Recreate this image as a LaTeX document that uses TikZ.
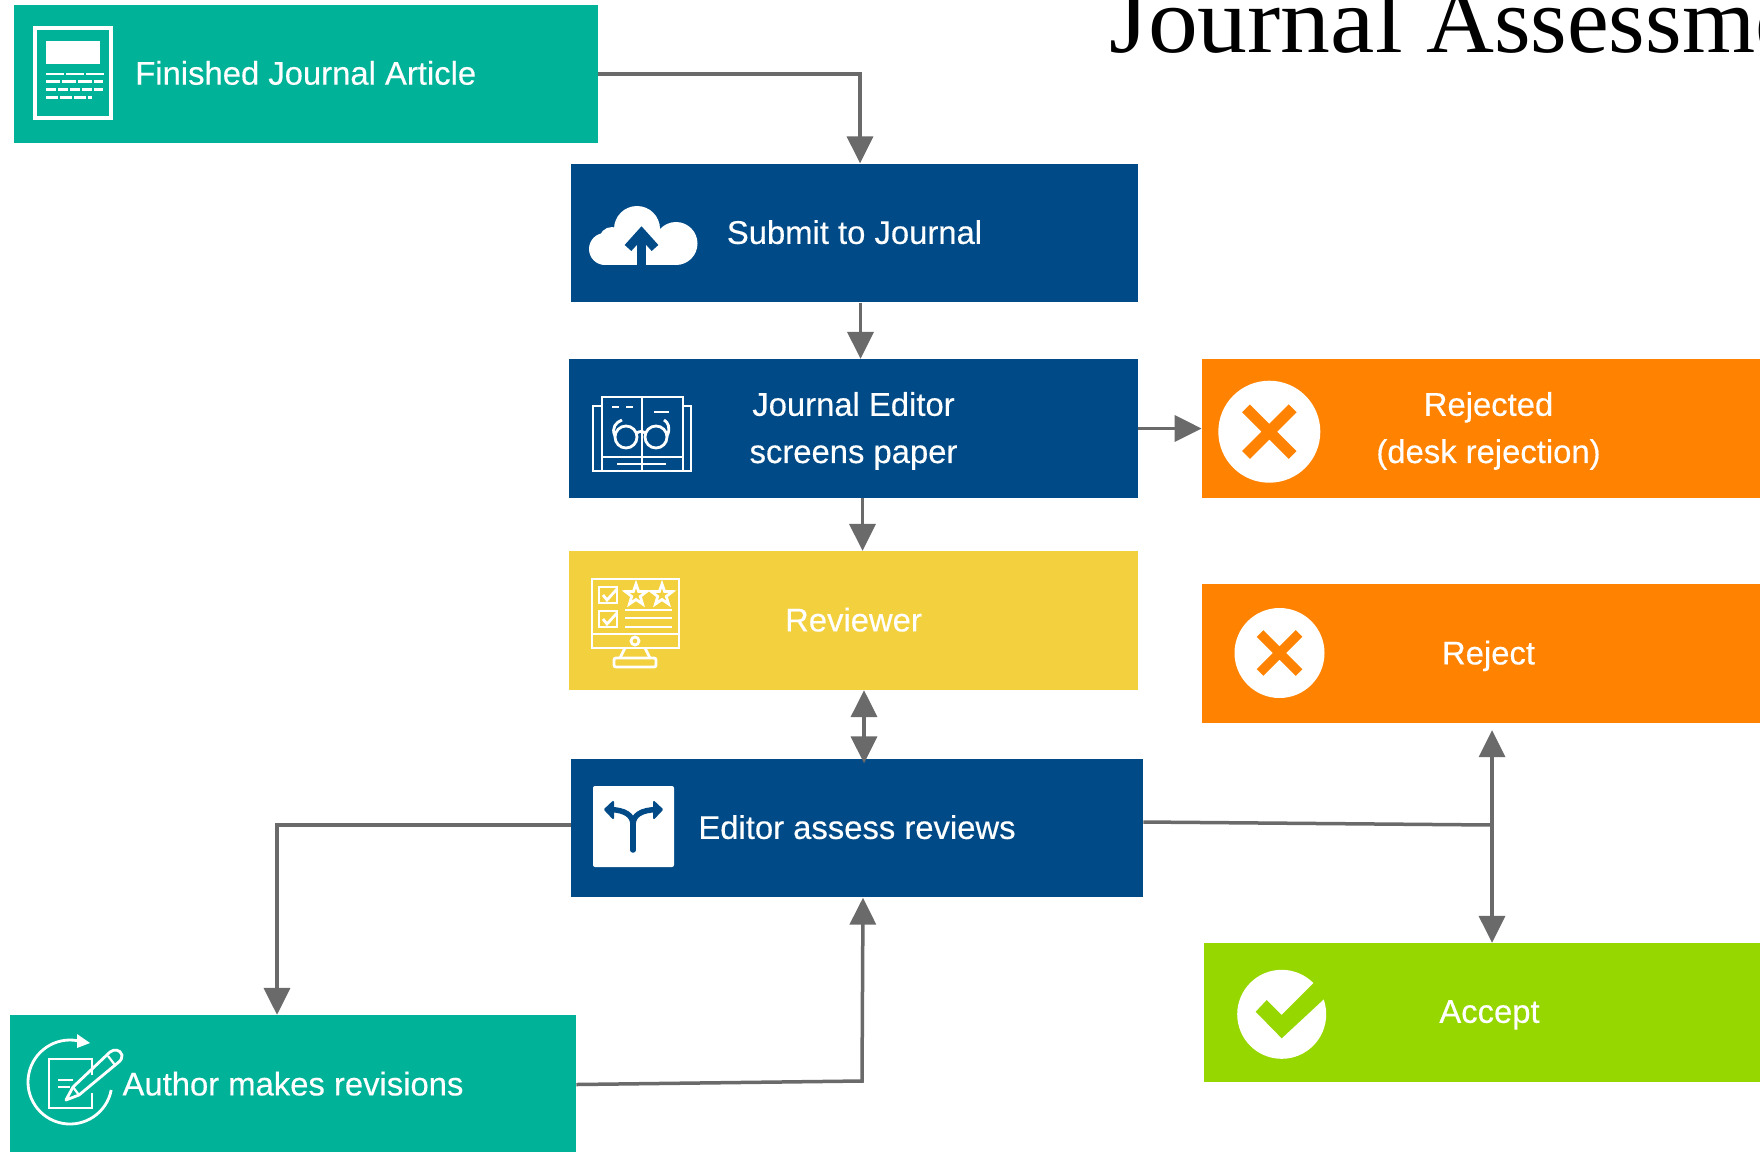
\documentclass[tikz,border=0pt]{standalone}
\usepackage{fontspec}
\setmainfont[FakeBold=0.35]{Liberation Sans}
\newfontfamily\titlefont{Liberation Serif}
\newfontfamily\titlewide[FakeStretch=1.06]{Liberation Serif}
\usetikzlibrary{arrows.meta}
\definecolor{tealfill}{HTML}{00B398}
\definecolor{bluefill}{HTML}{004B87}
\definecolor{yellowfill}{HTML}{F2D03E}
\definecolor{orangefill}{HTML}{FF8300}
\definecolor{greenfill}{HTML}{97D700}
\definecolor{linegray}{HTML}{6A6A6A}
\tikzset{
  flowbox/.style={inner sep=0pt, minimum height=69.25pt, align=center, text=white, text depth=1pt,
    font=\fontsize{16.4}{23.6}\selectfont},
  tealbox/.style={flowbox, fill=tealfill},
  bluebox/.style={flowbox, fill=bluefill},
  yellowbox/.style={flowbox, fill=yellowfill},
  orangebox/.style={flowbox, fill=orangefill},
  greenbox/.style={flowbox, fill=greenfill},
  flowline/.style={draw=linegray, line width=1.75pt, -{Triangle[width=13pt,length=13.5pt]}},
  twowayline/.style={draw=linegray, line width=1.75pt, {Triangle[width=13pt,length=13.5pt]}-{Triangle[width=13pt,length=13.5pt]}},
  plainline/.style={draw=linegray, line width=1.75pt},
  iconline/.style={draw=white, line width=1.4pt},
  thinicon/.style={draw=white, line width=1.1pt},
}
\begin{document}
\begin{tikzpicture}[x=0.5pt, y=-0.5pt]
\path[use as bounding box, clip] (0,0) rectangle (1760,1151);

% Title, cut off by the page
\node[anchor=base west, inner sep=0pt, font=\titlefont\fontsize{47}{47}\selectfont] (title) at (1109,52.5) {{\titlewide Journal} Assessment};

% Boxes
\node[tealbox, minimum width=292.25pt] (finished) at (305.75,73.75) {Finished Journal Article};
\node[bluebox, minimum width=283.5pt] (submit) at (854.5,233) {Submit to Journal};
\node[bluebox, minimum width=284.5pt] (editor) at (853.5,428.5) {Journal Editor\\screens paper};
\node[yellowbox, minimum width=284.5pt] (reviewer) at (853.5,620.5) {Reviewer};
\node[bluebox, minimum width=286pt] (assess) at (857,828) {Editor assess reviews};
\node[tealbox, minimum width=283pt] (author) at (293,1084.5) {Author makes revisions};
\node[orangebox, minimum width=286.5pt] (rejected) at (1488.5,428.5) {Rejected\\(desk rejection)};
\node[orangebox, minimum width=286.5pt] (reject) at (1488.5,653.5) {Reject};
\node[greenbox, minimum width=285.5pt] (accept) at (1489.5,1012.5) {Accept};
\coordinate (split) at (1492,825);
\coordinate (authorturn) at (862,1081);

% Connectors
\draw[flowline] (finished.east) -| ([xshift=2.75pt]submit.north);
\draw[flowline] ([xshift=3pt]submit.south) -- ([xshift=3.5pt]editor.north);
\draw[flowline] ([xshift=4.5pt]editor.south) -- ([xshift=4.5pt]reviewer.north);
\draw[flowline] (editor.east) -- (rejected.west);
\draw[twowayline] ([xshift=5.25pt]reviewer.south) -- ([xshift=3.5pt,yshift=-2.5pt]assess.north);
\draw[flowline] ([yshift=1.5pt]assess.west) -| ([xshift=-8pt]author.north);
\draw[flowline] (author.east) -- (authorturn) -- ([xshift=3pt]assess.south);
\draw[plainline] ([yshift=3pt]assess.east) -- (split);
\draw[twowayline] ([xshift=1.75pt,yshift=-3.5pt]reject.south) -- ([xshift=1.25pt]accept.north);

% Icon of the finished article
\draw[iconline, line width=1.75pt] (35,28) rectangle (111,118);
\fill[white] (46,41) rectangle (100,64);
\draw[white, line width=1.25pt, dash pattern=on 9pt off 1pt] (46,74) -- (104,74);
\draw[white, line width=1.25pt, dash pattern=on 7pt off 1pt] (46,81.5) -- (103,81.5);
\draw[white, line width=1.25pt, dash pattern=on 5pt off 1pt] (46,89.5) -- (103,89.5);
\draw[white, line width=1.25pt, dash pattern=on 6pt off 1pt] (46,97.5) -- (92,97.5);

% Icon of the upload cloud
\fill[white] (637,229) circle[radius=23];
\fill[white] (676,243.5) circle[radius=21.5];
\fill[white] (605,249) circle[radius=16];
\fill[white] (612,240) circle[radius=13];
\fill[white] (605,235) rectangle (676,265);
\draw[draw=bluefill, line width=4.5pt] (641.5,265) -- (641.5,233);
\draw[draw=bluefill, line width=4.5pt] (628,248) -- (641.5,233) -- (655,248);

% Icon of the book and glasses
\draw[iconline] (602,457) -- (602,397) -- (642,397) -- (642,471) (642,397) -- (683,397) -- (683,457);
\draw[iconline] (602,406) -- (593,406) -- (593,471) -- (691,471) -- (691,406) -- (683,406);
\draw[iconline] (602,457) -- (683,457) (602,457) -- (602,471) (683,457) -- (683,471);
\draw[iconline] (612,407) -- (619,407) (626,407) -- (633,407) (654,412) -- (669,412) (617,464) -- (666,464);
\draw[iconline] (626,437) circle[radius=11];
\draw[iconline] (656,437) circle[radius=11];
\draw[iconline] (637,433) .. controls (639,431) and (643,431) .. (645,433);
\draw[iconline] (615,436) .. controls (611,428) and (616,422) .. (622,420);
\draw[iconline] (667,436) .. controls (671,428) and (668,422) .. (664,420);

% Icon of the screen with ratings
\draw[iconline] (592,579) rectangle (679,648);
\draw[iconline] (592,634) -- (679,634);
\draw[iconline] (599,587) rectangle (617,603) (599,611) rectangle (617,627);
\draw[iconline] (603,595) -- (607,600) -- (617,589) (603,619) -- (607,624) -- (617,613);
\foreach \starx in {636,662}
  \draw[iconline, shift={(\starx,595)}] (0,-11) -- (2.6,-3.6) -- (10.5,-3.4) -- (4.3,1.4) -- (6.5,8.9) -- (0,4.5) -- (-6.5,8.9) -- (-4.3,1.4) -- (-10.5,-3.4) -- (-2.6,-3.6) -- cycle;
\foreach \liney in {610,618,627}
  \draw[iconline] (625,\liney) -- (672,\liney);
\draw[iconline] (635,641) circle[radius=4];
\draw[iconline] (625,648) -- (620,658) (645,648) -- (650,658);
\draw[iconline, rounded corners=1pt] (614,658) rectangle (656,667);

% Icon of the forked road
\fill[white, rounded corners=1pt] (593,786) rectangle (674,867);
\draw[draw=bluefill, line width=2.75pt, line cap=round] (633,850) -- (633,825);
\draw[draw=bluefill, line width=2.75pt, line cap=round] (633,825) .. controls (633,815) and (625,810) .. (610,809.5);
\draw[draw=bluefill, line width=2.75pt, line cap=round] (633,825) .. controls (633,815) and (641,810) .. (657,809.5);
\fill[bluefill, draw=bluefill, line width=1pt, line join=round] (605,809.5) -- (613,802) -- (613,818) -- cycle;
\fill[bluefill, draw=bluefill, line width=1pt, line join=round] (662,809.5) -- (654,802) -- (654,818) -- cycle;

% Icon of the revision pen
\draw[iconline] (70,1082) ++(-79:42) arc[start angle=-79, end angle=-349, radius=42];
\fill[white] (77,1034) -- (90,1043) -- (77,1048) -- cycle;
\draw[iconline] (92,1075) -- (92,1059) -- (49,1059) -- (49,1108) -- (92,1108) -- (92,1093);
\draw[thinicon] (58,1080) -- (73,1080) (58,1087) -- (70,1087);
\draw[iconline, line join=round] (66,1100) -- (73,1087) -- (110,1052) .. controls (114,1049) and (120,1049) .. (122,1055) .. controls (122,1058) and (121,1060) .. (120,1061) -- (79,1095) -- cycle;
\draw[thinicon] (108,1056) -- (115,1065) (73,1087) -- (79,1095);

% Icons of the decisions
\fill[white] (1269.3,431.7) circle[radius=51];
\draw[draw=orangefill, line width=5.5pt] (1246,408.3) -- (1292.7,455) (1292.7,408.3) -- (1246,455);
\fill[white] (1279.5,653) circle[radius=45];
\draw[draw=orangefill, line width=4.75pt] (1260,633.5) -- (1299,672.5) (1299,633.5) -- (1260,672.5);
\fill[white] (1281.7,1014.3) circle[radius=44.5];
\fill[greenfill] (1255.7,1011.7) -- (1266.7,1000) -- (1281.7,1015) -- (1316.7,980) -- (1328.3,995) -- (1281.7,1038.3) -- cycle;
\end{tikzpicture}
\end{document}
